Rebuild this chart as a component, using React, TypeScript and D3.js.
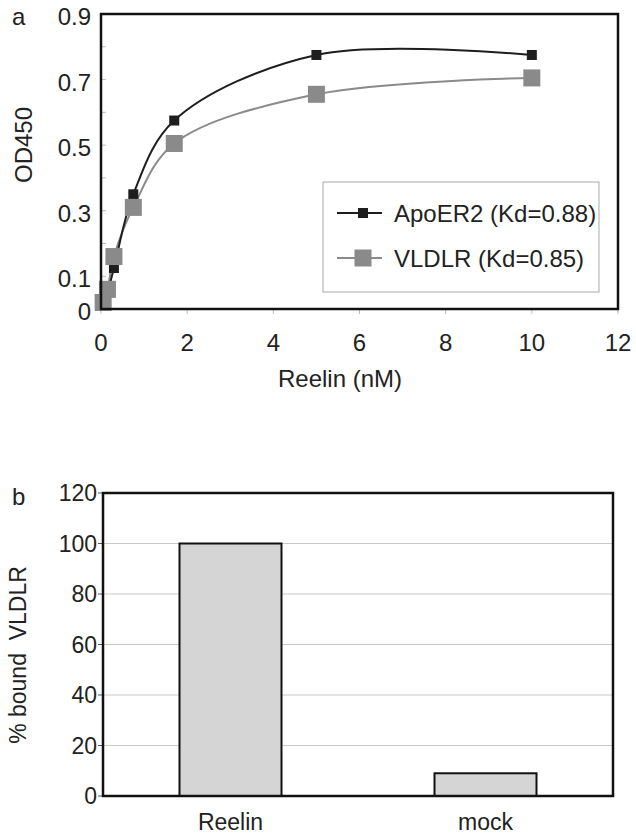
import * as d3 from 'd3';
import React, { useRef, useEffect } from 'react';

// panel a: binding curves
const conc = [0.05, 0.15, 0.3, 0.75, 1.7, 5, 10];
const apoER2 = [0.02, 0.05, 0.125, 0.35, 0.575, 0.775, 0.775];
const vldlr = [0.02, 0.06, 0.16, 0.31, 0.505, 0.655, 0.705];
const yTicksA = [0, 0.1, 0.3, 0.5, 0.7, 0.9];
const xTicksA = [0, 2, 4, 6, 8, 10, 12];
const legendLabels = ['ApoER2 (Kd=0.88)', 'VLDLR (Kd=0.85)'];

// panel b: bars
const barCats = ['Reelin', 'mock'];
const barVals = [100, 9];
const yTicksB = [0, 20, 40, 60, 80, 100, 120];

const FONT = 'Liberation Sans, Arial, Helvetica, sans-serif';

function App() {
  const ref = useRef<SVGSVGElement>(null);

  useEffect(() => {
    const svg = d3.select(ref.current);
    svg.selectAll('*').remove();
    svg.attr('font-family', FONT);

    // ---------- panel a ----------
    const x = d3.scaleLinear().domain([0, 12]).range([101, 618]);
    const y = d3.scaleLinear().domain([0, 0.9]).range([309, 14]);

    const a = svg.append('g');

    a.append('text').attr('x', 12).attr('y', 25).attr('font-size', 24).attr('fill', '#222').text('a');

    // minor ticks
    a.append('g')
      .selectAll('line')
      .data(d3.range(0, 0.91, 0.1))
      .join('line')
      .attr('x1', 101).attr('x2', 106)
      .attr('y1', d => y(d)).attr('y2', d => y(d))
      .attr('stroke', '#bbb');
    a.append('g')
      .selectAll('line')
      .data(xTicksA)
      .join('line')
      .attr('x1', d => x(d)).attr('x2', d => x(d))
      .attr('y1', 309).attr('y2', 314)
      .attr('stroke', '#bbb');

    a.append('g')
      .selectAll('text')
      .data(yTicksA)
      .join('text')
      .attr('x', 91)
      .attr('y', d => y(d) + 11)
      .attr('text-anchor', 'end')
      .attr('font-size', 24)
      .attr('fill', '#222')
      .text(d => String(d));

    a.append('g')
      .selectAll('text')
      .data(xTicksA)
      .join('text')
      .attr('x', d => x(d))
      .attr('y', 351)
      .attr('text-anchor', 'middle')
      .attr('font-size', 24)
      .attr('fill', '#222')
      .text(d => String(d));

    a.append('text')
      .attr('x', 340).attr('y', 387)
      .attr('text-anchor', 'middle')
      .attr('font-size', 24)
      .attr('fill', '#222')
      .text('Reelin (nM)');

    a.append('text')
      .attr('transform', 'translate(32,145) rotate(-90)')
      .attr('text-anchor', 'middle')
      .attr('font-size', 24)
      .attr('fill', '#222')
      .text('OD450');

    const line = d3.line<number>()
      .x((d, i) => x(conc[i]))
      .y(d => y(d))
      .curve(d3.curveCatmullRom.alpha(0.5));

    a.append('path')
      .attr('d', line(vldlr))
      .attr('fill', 'none')
      .attr('stroke', '#8a8a8a')
      .attr('stroke-width', 2);
    a.append('path')
      .attr('d', line(apoER2))
      .attr('fill', 'none')
      .attr('stroke', '#1e1e1e')
      .attr('stroke-width', 2);

    a.append('g')
      .selectAll('rect')
      .data(apoER2)
      .join('rect')
      .attr('x', (d, i) => x(conc[i]) - 5)
      .attr('y', d => y(d) - 5)
      .attr('width', 10).attr('height', 10)
      .attr('fill', '#1e1e1e');
    a.append('g')
      .selectAll('rect')
      .data(vldlr)
      .join('rect')
      .attr('x', (d, i) => x(conc[i]) - 8.5)
      .attr('y', d => y(d) - 8.5)
      .attr('width', 17).attr('height', 17)
      .attr('fill', '#8a8a8a');

    // frame
    a.append('rect')
      .attr('x', 101).attr('y', 14)
      .attr('width', 517).attr('height', 295)
      .attr('fill', 'none')
      .attr('stroke', '#111')
      .attr('stroke-width', 2.5);

    // legend
    const lg = a.append('g');
    lg.append('rect')
      .attr('x', 323).attr('y', 182)
      .attr('width', 276).attr('height', 110)
      .attr('fill', '#fff')
      .attr('stroke', '#aaa');
    const lgRows = [
      { label: legendLabels[0], color: '#1e1e1e', size: 10, y: 213 },
      { label: legendLabels[1], color: '#8a8a8a', size: 17, y: 258 },
    ];
    lgRows.forEach(r => {
      lg.append('line')
        .attr('x1', 337).attr('x2', 382)
        .attr('y1', r.y).attr('y2', r.y)
        .attr('stroke', r.color).attr('stroke-width', 2);
      lg.append('rect')
        .attr('x', 363 - r.size / 2).attr('y', r.y - r.size / 2)
        .attr('width', r.size).attr('height', r.size)
        .attr('fill', r.color);
      lg.append('text')
        .attr('x', 394).attr('y', r.y + 9)
        .attr('font-size', 24)
        .attr('fill', '#222')
        .text(r.label);
    });

    // ---------- panel b ----------
    const xb = d3.scaleBand().domain(barCats).range([103, 613])
      .paddingInner(0.6).paddingOuter(0.3);
    const yb = d3.scaleLinear().domain([0, 120]).range([796, 493]);

    const b = svg.append('g');
    b.append('text').attr('x', 12).attr('y', 505).attr('font-size', 24).attr('fill', '#222').text('b');

    b.append('g')
      .selectAll('line')
      .data(yTicksB.slice(1, -1))
      .join('line')
      .attr('x1', 103).attr('x2', 613)
      .attr('y1', d => yb(d)).attr('y2', d => yb(d))
      .attr('stroke', '#c8c8c8');

    b.append('g')
      .selectAll('line')
      .data(yTicksB)
      .join('line')
      .attr('x1', 98).attr('x2', 103)
      .attr('y1', d => yb(d)).attr('y2', d => yb(d))
      .attr('stroke', '#555');

    b.append('g')
      .selectAll('text')
      .data(yTicksB)
      .join('text')
      .attr('x', 97)
      .attr('y', d => yb(d) + 8)
      .attr('text-anchor', 'end')
      .attr('font-size', 23)
      .attr('fill', '#222')
      .text(d => String(d));

    b.append('g')
      .selectAll('rect')
      .data(barVals)
      .join('rect')
      .attr('x', (d, i) => xb(barCats[i])!)
      .attr('y', d => yb(d))
      .attr('width', xb.bandwidth())
      .attr('height', d => yb(0) - yb(d))
      .attr('fill', '#d5d5d5')
      .attr('stroke', '#111')
      .attr('stroke-width', 2);

    b.append('g')
      .selectAll('text')
      .data(barCats)
      .join('text')
      .attr('x', d => xb(d)! + xb.bandwidth() / 2)
      .attr('y', 830)
      .attr('text-anchor', 'middle')
      .attr('font-size', 23)
      .attr('fill', '#222')
      .text(d => d);

    b.append('text')
      .attr('transform', 'translate(26,655) rotate(-90)')
      .attr('text-anchor', 'middle')
      .attr('font-size', 23)
      .attr('fill', '#222')
      .attr('xml:space', 'preserve')
      .style('white-space', 'pre')
      .text('% bound  VLDLR');

    b.append('rect')
      .attr('x', 103).attr('y', 493)
      .attr('width', 510).attr('height', 303)
      .attr('fill', 'none')
      .attr('stroke', '#111')
      .attr('stroke-width', 2.5);
  }, []);

  return (
    <svg ref={ref} width={636} height={837}
      style={{ position: 'absolute', left: 0, top: 0, background: '#fff' }} />
  );
}

export default App;
